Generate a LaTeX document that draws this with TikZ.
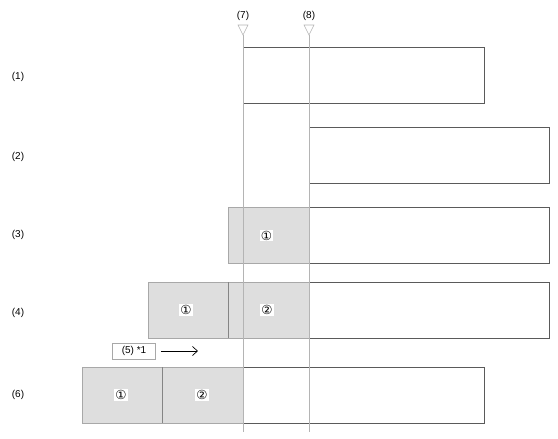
\documentclass[tikz,border=0pt]{standalone}
\usepackage{fontspec}
\setmainfont{Liberation Sans}
\newfontfamily\symfont{DejaVu Sans}
\usetikzlibrary{arrows.meta}
\definecolor{grayfill}{HTML}{DEDEDE}
\definecolor{grayedge}{HTML}{A8A8A8}
\definecolor{darkedge}{HTML}{5A5A5A}
\definecolor{guide}{HTML}{B4B4B4}
\definecolor{divcol}{HTML}{858585}
\begin{document}
\begin{tikzpicture}[x=1pt,y=-1pt,
  lbl/.style={font=\fontsize{10}{12}\selectfont, inner sep=0pt},
  whitebox/.style={draw=darkedge, line width=0.7pt, fill=white, anchor=north west, minimum height=56pt, inner sep=0pt, outer sep=0pt},
  graybox/.style={draw=grayedge, line width=0.7pt, fill=grayfill, anchor=north west, minimum height=56pt, minimum width=81pt, inner sep=0pt, outer sep=0pt},
  num/.style={fill=white, inner sep=1pt, font=\symfont\fontsize{12.5}{14}\selectfont},
  guideline/.style={draw=guide, line width=0.6pt},
  marker/.style={draw=guide, fill=white, line width=0.6pt},
  divider/.style={draw=divcol, line width=0.9pt},
  note/.style={draw=grayedge, fill=white, line width=0.7pt, font=\fontsize{10}{12}\selectfont, minimum width=43pt, minimum height=16pt, inner sep=1pt},
  arr/.style={draw=black, line width=0.7pt, -{Straight Barb[length=5pt,width=9pt]}}
]
\useasboundingbox (0,0) rectangle (558,439);

% row 1
\node[whitebox, minimum width=241pt] (w1) at (243,47) {};
% row 2
\node[whitebox, minimum width=240pt] (w2) at (309,127) {};
% row 3
\node[graybox] (g3a) at (228,207) {};
\node[whitebox, minimum width=240pt] (w3) at (309,207) {};
% row 4
\node[graybox, minimum width=80pt] (g4a) at (148,282) {};
\node[graybox] (g4b) at (228,282) {};
\node[whitebox, minimum width=240pt] (w4) at (309,282) {};
\draw[divider] (g4a.north east) -- (g4a.south east);
% row 6
\node[graybox, minimum width=80pt] (g6a) at (82,367) {};
\node[graybox] (g6b) at (162,367) {};
\node[whitebox, minimum width=241pt] (w6) at (243,367) {};
\draw[divider] (g6a.north east) -- (g6a.south east);

% guide lines and markers
\coordinate (t7) at (243,35);
\coordinate (b7) at (243,432);
\coordinate (t8) at (309,35);
\coordinate (b8) at (309,432);
\draw[guideline] (t7) -- (b7);
\draw[guideline] (t8) -- (b8);
\draw[marker] (238,25) -- (248,25) -- (t7) -- cycle;
\draw[marker] (304,25) -- (314,25) -- (t8) -- cycle;
\node[lbl] (l7) at (243,16) {(7)};
\node[lbl] (l8) at (309,16) {(8)};

% row labels
\node[lbl] (l1) at (18,77) {(1)};
\node[lbl] (l2) at (18,157) {(2)};
\node[lbl] (l3) at (18,235) {(3)};
\node[lbl] (l4) at (18,313) {(4)};
\node[lbl] (l6) at (18,395) {(6)};

% circled numbers
\node[num] (n3a) at (266.5,235.5) {①};
\node[num] (n4a) at (186,310) {①};
\node[num] (n4b) at (267,310) {②};
\node[num] (n6a) at (121,395) {①};
\node[num] (n6b) at (202,395) {②};

% note (5)
\node[note] (n5) at (134,351) {(5) *1};
\coordinate (a5) at (198,351);
\draw[arr] ([xshift=5pt]n5.east) -- (a5);
\end{tikzpicture}
\end{document}
